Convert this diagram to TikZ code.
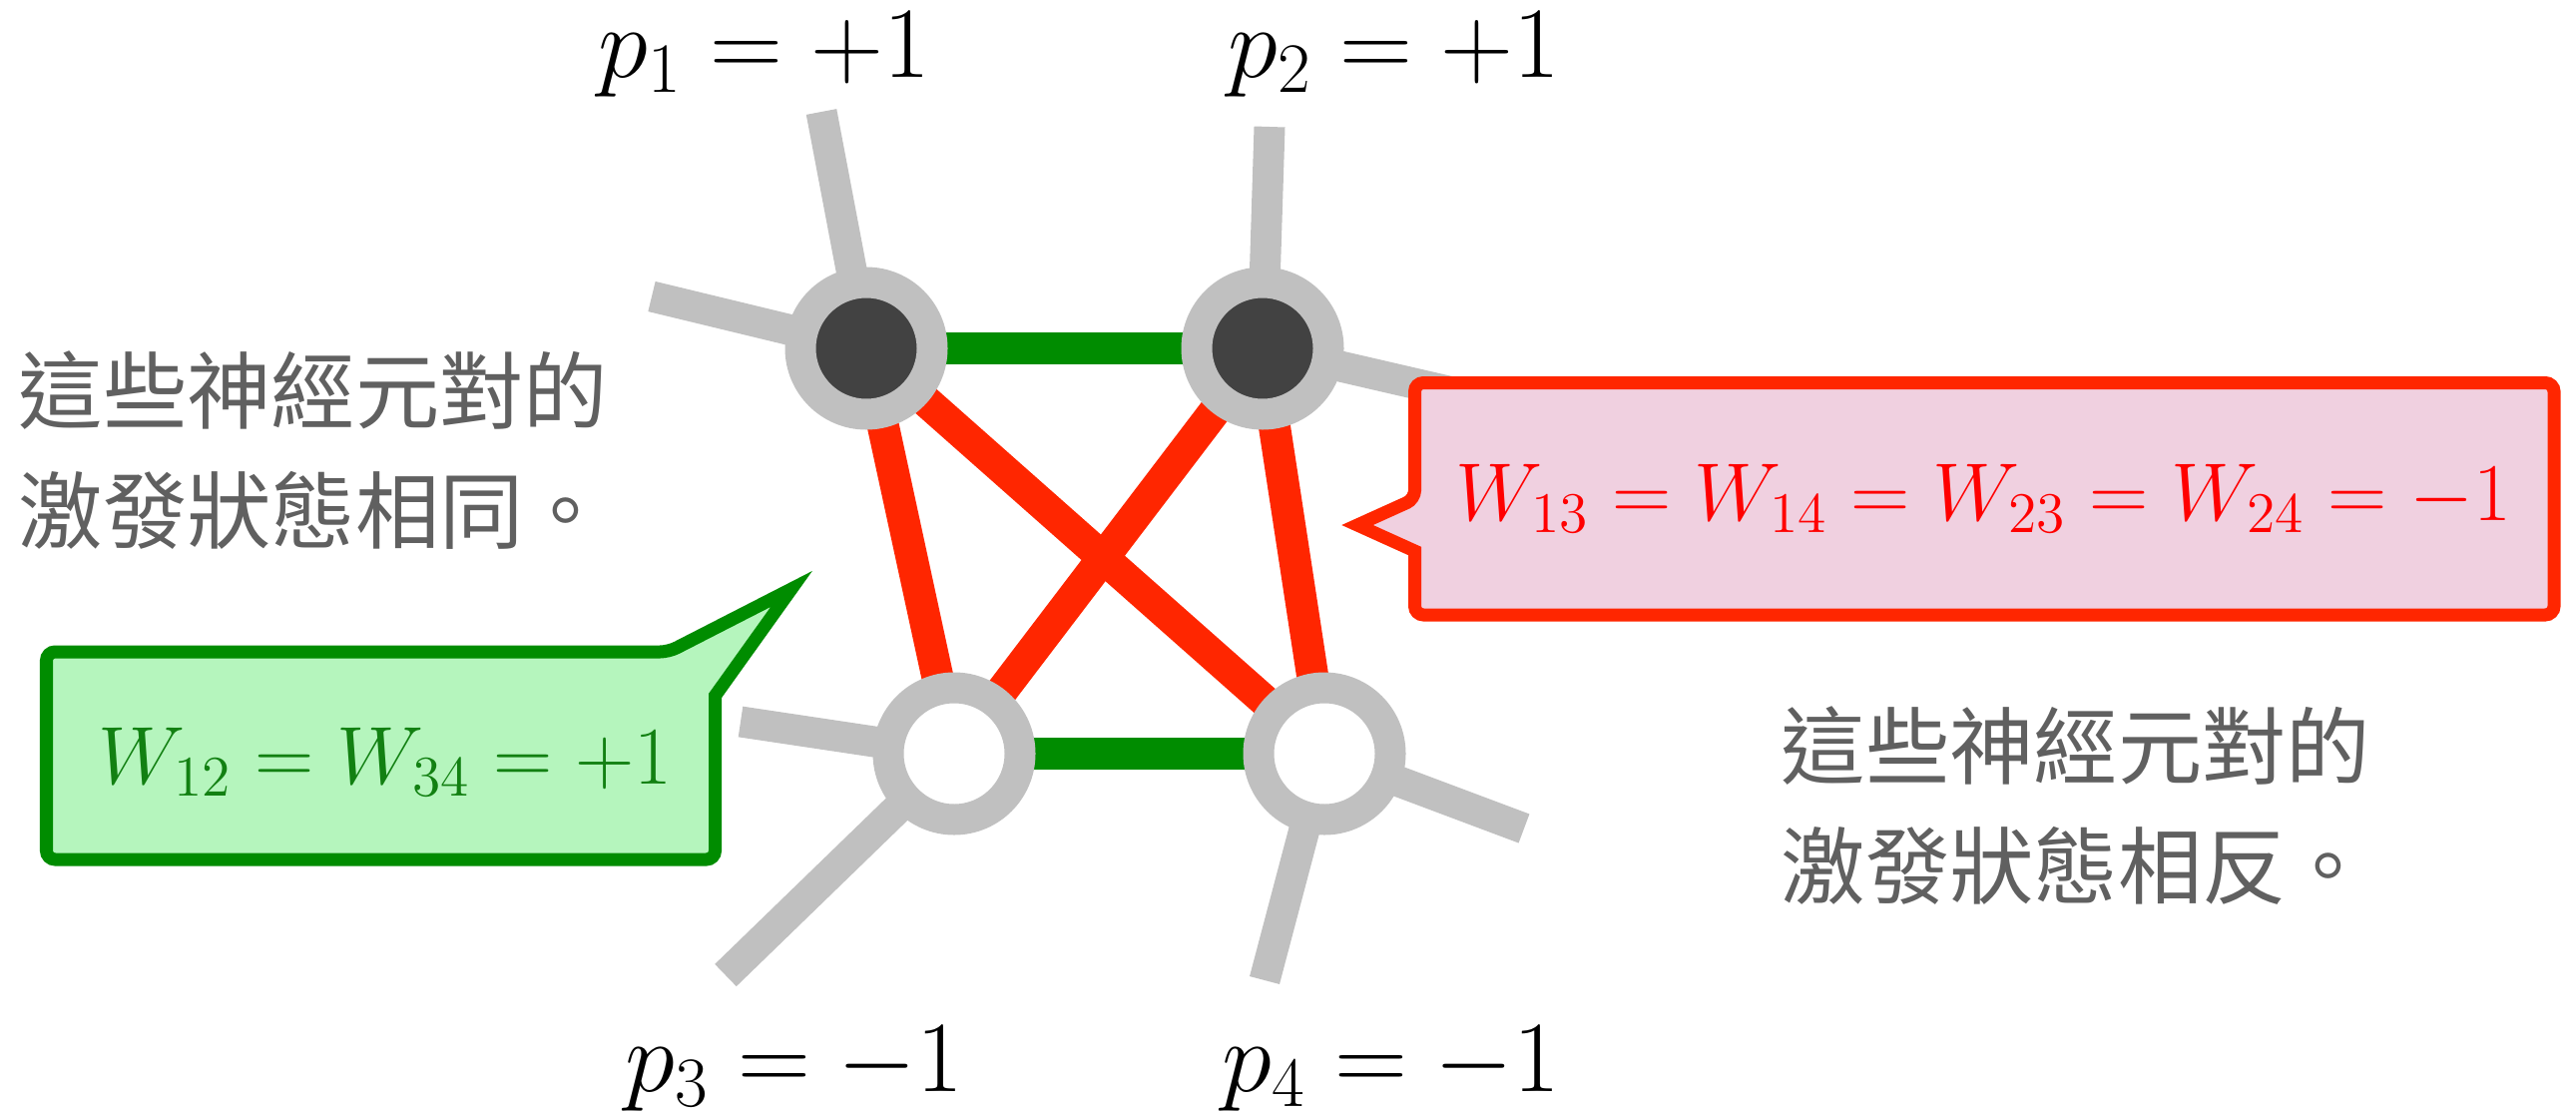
\RequirePackage{fix-cm}
\documentclass[tikz,border=0pt]{standalone}
\usepackage{fontspec}
\newfontfamily\cjk{Noto Sans CJK TC}
\usepackage{tikz}
\usetikzlibrary{backgrounds}
\definecolor{NeuronGray}{HTML}{C0C0C0}
\definecolor{ActiveDark}{HTML}{424242}
\definecolor{SameGreen}{HTML}{008C00}
\definecolor{SameFill}{HTML}{B5F5BD}
\definecolor{SameText}{HTML}{128012}
\definecolor{DiffRed}{HTML}{FF2600}
\definecolor{DiffFill}{HTML}{F0D0E0}
\definecolor{DiffText}{HTML}{FF0000}
\definecolor{NoteGray}{HTML}{606060}

\begin{document}
\begin{tikzpicture}[
    neuron/.style={circle, draw=NeuronGray, line width=0.31cm, minimum size=1.32cm, inner sep=0pt},
    spoke/.style={line width=0.31cm, NeuronGray},
    same/.style={line width=0.32cm, SameGreen},
    diff/.style={line width=0.32cm, DiffRed},
    callout/.style={line width=0.13cm, line join=miter},
    plabel/.style={anchor=base, inner sep=0pt, font=\fontsize{28.8}{34}\selectfont},
    wlabel/.style={anchor=base, font=\fontsize{23.4}{28}\selectfont},
    note/.style={anchor=north west, inner sep=0pt, align=left, text=NoteGray,
                 font=\cjk\fontsize{24}{34}\selectfont}
  ]
    \useasboundingbox (0,0) rectangle (25.81,11.16);

    % the four neurons
    \node[neuron, fill=ActiveDark] (n1) at (8.68,7.67) {};
    \node[neuron, fill=ActiveDark] (n2) at (12.65,7.67) {};
    \node[neuron, fill=white] (n3) at (9.56,3.61) {};
    \node[neuron, fill=white] (n4) at (13.27,3.61) {};

    % loose ends of the spokes
    \coordinate (n1up) at (8.23,10.04);
    \coordinate (n1left) at (6.53,8.19);
    \coordinate (n2up) at (12.72,9.89);
    \coordinate (n2right) at (14.90,7.15);
    \coordinate (n3left) at (7.42,3.93);
    \coordinate (n3down) at (7.27,1.39);
    \coordinate (n4right) at (15.27,2.86);
    \coordinate (n4down) at (12.67,1.34);

    \begin{scope}[on background layer]
      \draw[spoke] (n1.center) -- (n1up);
      \draw[spoke] (n1.center) -- (n1left);
      \draw[spoke] (n2.center) -- (n2up);
      \draw[spoke] (n2.center) -- (n2right);
      \draw[spoke] (n3.center) -- (n3left);
      \draw[spoke] (n3.center) -- (n3down);
      \draw[spoke] (n4.center) -- (n4right);
      \draw[spoke] (n4.center) -- (n4down);

      \draw[same] (n1.center) -- (n2.center);
      \draw[same] (n3.center) -- (n4.center);
      \draw[diff] (n1.center) -- (n3.center);
      \draw[diff] (n1.center) -- (n4.center);
      \draw[diff] (n2.center) -- (n3.center);
      \draw[diff] (n2.center) -- (n4.center);
    \end{scope}

    % states
    \node[plabel] (p1) at (7.655,10.39) {$p_1 = +1$};
    \node[plabel] (p2) at (13.965,10.39) {$p_2 = +1$};
    \node[plabel] (p3) at (7.96,0.23) {$p_3 = -1$};
    \node[plabel] (p4) at (13.94,0.23) {$p_4 = -1$};

    % callouts
    \draw[callout, draw=SameGreen, fill=SameFill] (7.165,3.40)
      [rounded corners=2.5pt] -- (7.165,2.55) -- (0.465,2.55) -- (0.465,4.63) -- (6.70,4.63)
      [sharp corners] -- (7.93,5.26) -- (7.165,4.19) -- cycle;
    \node[wlabel, text=SameText] (wsame) at (3.86,3.31) {$W_{12} = W_{34} = +1$};

    \draw[callout, draw=DiffRed, fill=DiffFill] (25.59,6.16)
      [rounded corners=2.5pt] -- (25.59,7.325) -- (14.175,7.325) -- (14.175,6.16)
      [sharp corners] -- (13.60,5.90) -- (14.175,5.64)
      [rounded corners=2.5pt] -- (14.175,5.00) -- (25.59,5.00) -- cycle;
    \node[wlabel, text=DiffText] (wdiff) at (19.875,5.95) {$W_{13} = W_{14} = W_{23} = W_{24} = -1$};

    % notes
    \node[note] (samenote) at (0.18,7.65) {這些神經元對的\\激發狀態相同。};
    \node[note] (diffnote) at (17.84,4.09) {這些神經元對的\\激發狀態相反。};
\end{tikzpicture}
\end{document}
